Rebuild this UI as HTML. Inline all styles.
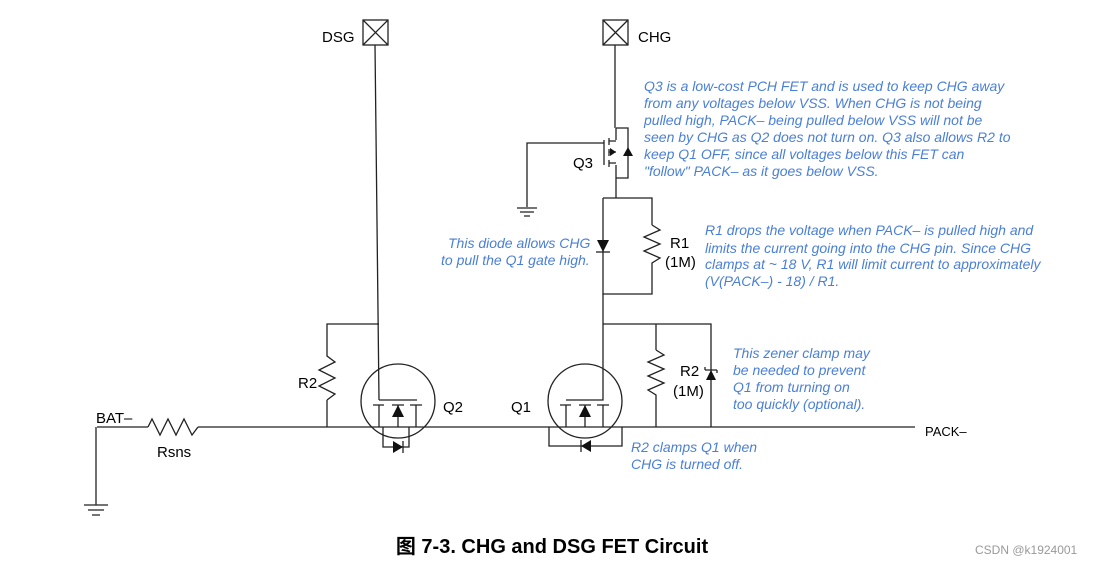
<!DOCTYPE html>
<html><head><meta charset="utf-8"><style>
body{margin:0;background:#fff}
svg{display:block}
.t{font-family:"Liberation Sans",sans-serif;font-size:15px;fill:#000}
.b{font-family:"Liberation Sans",sans-serif;font-size:14px;font-style:italic;fill:#4a7fd6}
</style></head><body>
<svg width="1104" height="564" viewBox="0 0 1104 564" xmlns="http://www.w3.org/2000/svg">
<g stroke="#222" stroke-width="1.3" fill="none">
<rect x="363" y="20" width="25" height="25"/><path d="M363 20L388 45M388 20L363 45"/>
<path d="M375 45L379 400"/>
<rect x="603" y="20" width="25" height="25"/><path d="M603 20L628 45M628 20L603 45"/>
<path d="M615 45V128"/>
<path d="M97 427H148 M198 427H915"/>
<path d="M148 427l4 -8 8 16 8 -16 8 16 8 -16 8 16 6 -8"/>
<path d="M96 427V505 M84 505H108 M88 510H104 M92 515H100"/>
<path d="M327 427V400 M327 400l8 -6 -16 -8 16 -8 -16 -8 16 -8 -8 -6V324H379"/>
<circle cx="398" cy="401" r="37"/>
<path d="M379 400H417 M373 405H384 M392 405H404 M410 405H422 M379 405V427 M398 405V427 M416 405V427"/>
<path d="M383 427V447H409V427"/>
<path d="M616 128H628V178H616 M616 128V140 M616 165V198 M604 140V165 M609 138V145 M609 149V156 M609 160V167 M609 141H616 M609 163H616 M609 152H616"/>
<path d="M604 143H527V207 M517 208H537 M520 212H534 M524 216H530"/>
<path d="M603 198H652V225 M652 225l8 5 -16 7 16 7 -16 7 16 7 -8 5V294H603V198"/>
<path d="M596 252H610"/>
<path d="M603 294V400H566 M560 405H571 M579 405H591 M597 405H609 M566 405V427 M585 405V427 M603 405V427"/>
<circle cx="585" cy="401" r="37"/>
<path d="M549 427V446H622V427"/>
<path d="M603 324H711V427 M656 324V350 M656 350l8 5 -16 7 16 7 -16 7 16 7 -16 7 8 5V427"/>
<path d="M705 370H717 M705 370v-3 M717 370v3"/>
<path d="M403 441V453 M581 440V452"/>
</g>
<g fill="#111">
<path d="M392 417L398 405 404 417Z"/>
<path d="M579 417L585 405 591 417Z"/>
<path d="M393 441L403 447 393 453Z"/>
<path d="M581 446L591 440V452Z"/>
<path d="M623 156L628 147 633 156Z"/>
<path d="M616 152L610 148V156Z"/>
<path d="M597 240H609L603 252Z"/>
<path d="M706 380L711 370 716 380Z"/>
</g>
<text class="t" x="322" y="42">DSG</text>
<text class="t" x="638" y="42">CHG</text>
<text class="t" x="96" y="423">BAT–</text>
<text class="t" x="157" y="457">Rsns</text>
<text class="t" x="298" y="388">R2</text>
<text class="t" x="443" y="412">Q2</text>
<text class="t" x="511" y="412">Q1</text>
<text class="t" x="573" y="168">Q3</text>
<text class="t" x="670" y="248">R1</text>
<text class="t" x="665" y="267">(1M)</text>
<text class="t" x="680" y="376">R2</text>
<text class="t" x="673" y="396">(1M)</text>
<text class="t" x="925" y="436" style="font-size:13px">PACK–</text>
<g class="b">
<text x="644" y="91">Q3 is a low-cost PCH FET and is used to keep CHG away</text>
<text x="644" y="108">from any voltages below VSS. When CHG is not being</text>
<text x="644" y="125">pulled high, PACK–  being pulled below VSS will not be</text>
<text x="644" y="142">seen by CHG as Q2 does not turn on. Q3 also allows R2 to</text>
<text x="644" y="159">keep Q1 OFF, since all voltages below this FET can</text>
<text x="644" y="176">"follow" PACK– as it goes below VSS.</text>
<text x="705" y="235">R1 drops the voltage when PACK– is pulled high and</text>
<text x="705" y="253">limits the current going into the CHG pin. Since CHG</text>
<text x="705" y="269">clamps at ~ 18 V, R1 will limit current to approximately</text>
<text x="705" y="286">(V(PACK–) - 18) / R1.</text>
<text x="448" y="248">This diode allows CHG</text>
<text x="441" y="265">to pull the Q1 gate high.</text>
<text x="733" y="358">This zener clamp may</text>
<text x="733" y="375">be needed to prevent</text>
<text x="733" y="392">Q1 from turning on</text>
<text x="733" y="409">too quickly (optional).</text>
<text x="631" y="452">R2 clamps Q1 when</text>
<text x="631" y="469">CHG is turned off.</text>
</g>
<text x="552" y="553" text-anchor="middle" style="font-family:'Liberation Sans','Noto Sans CJK SC',sans-serif;font-size:20px;font-weight:bold">图 7-3. CHG and DSG FET Circuit</text>
<text x="975" y="554" style="font-family:'Liberation Sans',sans-serif;font-size:12px;fill:#999">CSDN @k1924001</text>
</svg>
</body></html>
